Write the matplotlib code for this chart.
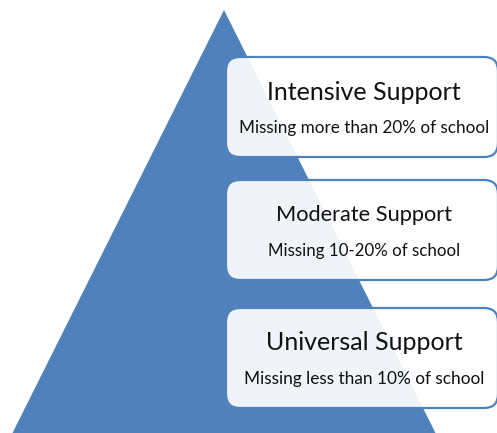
import matplotlib.pyplot as plt
from matplotlib.patches import Polygon, FancyBboxPatch

# tiers from top to bottom
titles = ["Intensive Support", "Moderate Support", "Universal Support"]
subtitles = ["Missing more than 20% of school",
             "Missing 10-20% of school",
             "Missing less than 10% of school"]

BLUE = "#4f81bd"


def draw():
    fig = plt.figure(figsize=(4.97, 4.33), dpi=100)
    ax = fig.add_axes([0, 0, 1, 1])
    ax.set_xlim(0, 497)
    ax.set_ylim(433, 0)
    ax.axis("off")

    # the pyramid
    tri = Polygon([(224, 10), (11, 436), (437, 436)], closed=True,
                  facecolor=BLUE, edgecolor="none")
    ax.add_patch(tri)

    box_tops = [57, 180, 308]
    title_sizes = [18, 15.7, 18]
    sub_sizes = [12.3, 12.2, 12.4]
    box_h = 100
    x0, x1 = 226, 498
    for i in range(len(titles)):
        top = box_tops[i]
        box = FancyBboxPatch((x0, top), x1 - x0, box_h,
                             boxstyle="round,pad=0,rounding_size=14",
                             facecolor="white", alpha=0.92,
                             edgecolor="none")
        ax.add_patch(box)
        border = FancyBboxPatch((x0, top), x1 - x0, box_h,
                                boxstyle="round,pad=0,rounding_size=14",
                                facecolor="none", edgecolor=BLUE, lw=1.6)
        ax.add_patch(border)
        cx = 364
        ax.text(cx, top + 35, titles[i], ha="center", va="center",
                fontsize=title_sizes[i], family="Lato", color="#111111")
        ax.text(cx, top + 71, subtitles[i], ha="center", va="center",
                fontsize=sub_sizes[i], family="Lato", color="#111111")

    fig.savefig("out.png", dpi=100)


if __name__ == "__main__":
    draw()
